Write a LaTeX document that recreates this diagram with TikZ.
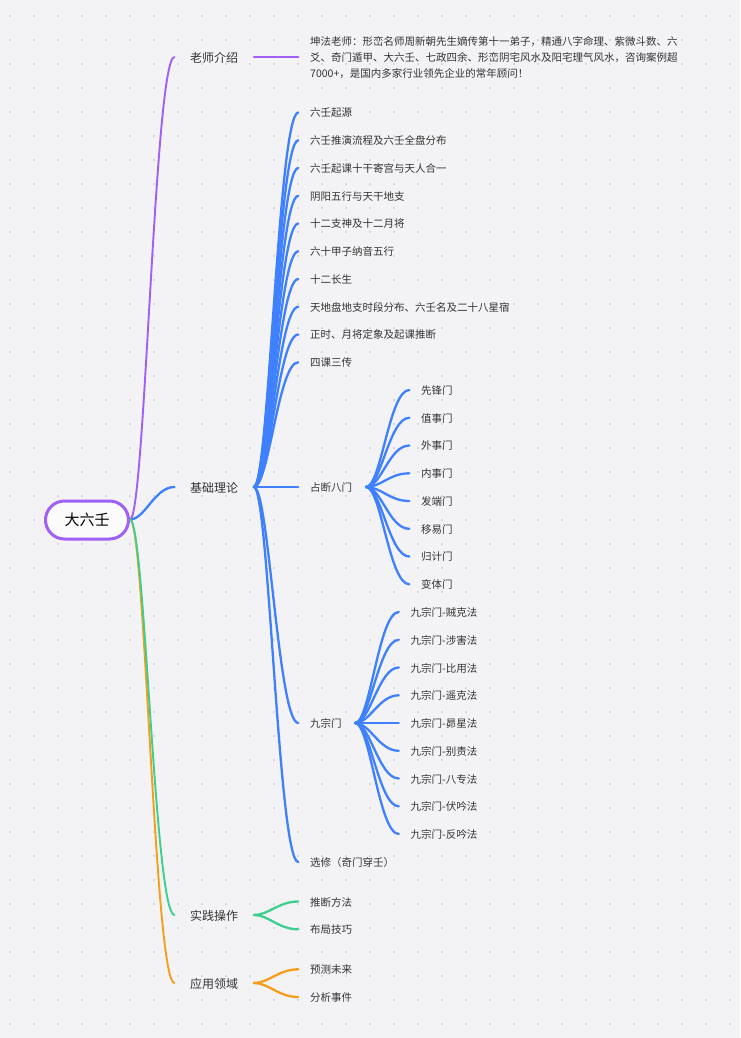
\documentclass[tikz,border=0pt]{standalone}
\usepackage{fontspec}
\setmainfont{Noto Sans CJK SC}
\definecolor{bgc}{HTML}{F3F3F6}
\definecolor{dotc}{HTML}{D6D7DA}
\definecolor{txt}{HTML}{333333}
\definecolor{purp}{HTML}{A05FF5}
\definecolor{blu}{HTML}{3F80FF}
\definecolor{grn}{HTML}{3ECF8E}
\definecolor{org}{HTML}{F59E1B}
\tikzset{
 x=1pt,y=-1pt,
 leaf/.style={anchor=west,yshift=-0.5pt,inner xsep=11.7pt,inner ysep=0pt,text=txt,font=\fontsize{10.5}{16}\selectfont,align=left},
 branch/.style={anchor=west,yshift=-0.5pt,inner xsep=15.5pt,inner ysep=0pt,text=txt,font=\fontsize{12}{16}\selectfont},
 rootbox/.style={draw=purp,line width=3pt,fill=white!70!bgc,rounded corners=19pt,minimum width=83pt,minimum height=38pt,inner sep=0pt,text=black,font=\fontsize{15}{18}\selectfont},
 link/.style={line width=2.3pt,line cap=round},
 rootlink/.style={line width=1.9pt,line cap=round},
}
\newcommand{\cv}[3]{\draw[#1] ([yshift=0.5pt]#2.east) .. controls +(15,0) and +(-20,0) .. ([yshift=0.5pt]#3.west);}
\begin{document}
\begin{tikzpicture}
\useasboundingbox (0,0) rectangle (740,1038);
\fill[bgc] (0,0) rectangle (740,1038);
\foreach \i in {0,...,30}{\foreach \j in {0,...,42}{\fill[dotc] ({10+24*\i-0.8},{16+24*\j-0.8}) rectangle +(1.6,1.6);}}
\node[rootbox] (root) at (87,520) {大六壬};
\node[branch] (teacher) at (174.5,57) {老师介绍};
\node[branch] (basic) at (174.5,487) {基础理论};
\node[branch] (practice) at (174.5,915) {实践操作};
\node[branch] (apply) at (174.5,983) {应用领域};
\node[leaf] (bio) at (298.3,57) {坤法老师：形峦名师周新朝先生嫡传第十一弟子，精通八字命理、紫微斗数、六\\爻、奇门遁甲、大六壬、七政四余、形峦阴宅风水及阳宅理气风水，咨询案例超\\7000+，是国内多家行业领先企业的常年顾问！};
\node[leaf] (a1) at (298.3,112.5) {六壬起源};
\node[leaf] (a2) at (298.3,140.3) {六壬推演流程及六壬全盘分布};
\node[leaf] (a3) at (298.3,168) {六壬起课十干寄宫与天人合一};
\node[leaf] (a4) at (298.3,195.8) {阴阳五行与天干地支};
\node[leaf] (a5) at (298.3,223.5) {十二支神及十二月将};
\node[leaf] (a6) at (298.3,251.3) {六十甲子纳音五行};
\node[leaf] (a7) at (298.3,279) {十二长生};
\node[leaf] (a8) at (298.3,306.8) {天地盘地支时段分布、六壬名及二十八星宿};
\node[leaf] (a9) at (298.3,334.5) {正时、月将定象及起课推断};
\node[leaf] (a10) at (298.3,362.3) {四课三传};
\node[leaf,text width=44pt] (zd) at (298.3,487) {占断八门};
\node[leaf,text width=33pt] (jz) at (298.3,723) {九宗门};
\node[leaf] (xx) at (298.3,862) {选修（奇门穿壬）};
\node[leaf] (z1) at (409.3,390) {先锋门};
\node[leaf] (z2) at (409.3,417.8) {值事门};
\node[leaf] (z3) at (409.3,445.5) {外事门};
\node[leaf] (z4) at (409.3,473.3) {内事门};
\node[leaf] (z5) at (409.3,501) {发端门};
\node[leaf] (z6) at (409.3,528.8) {移易门};
\node[leaf] (z7) at (409.3,556.5) {归计门};
\node[leaf] (z8) at (409.3,584.3) {变体门};
\node[leaf] (j1) at (398.8,612) {九宗门-贼克法};
\node[leaf] (j2) at (398.8,639.8) {九宗门-涉害法};
\node[leaf] (j3) at (398.8,667.5) {九宗门-比用法};
\node[leaf] (j4) at (398.8,695.3) {九宗门-遥克法};
\node[leaf] (j5) at (398.8,723) {九宗门-昴星法};
\node[leaf] (j6) at (398.8,750.8) {九宗门-别责法};
\node[leaf] (j7) at (398.8,778.5) {九宗门-八专法};
\node[leaf] (j8) at (398.8,806.3) {九宗门-伏吟法};
\node[leaf] (j9) at (398.8,834) {九宗门-反吟法};
\node[leaf] (p1) at (298.3,901.5) {推断方法};
\node[leaf] (p2) at (298.3,929.3) {布局技巧};
\node[leaf] (q1) at (298.3,969.3) {预测未来};
\node[leaf] (q2) at (298.3,997) {分析事件};
\cv{rootlink,purp}{root}{teacher}
\cv{link,blu}{root}{basic}
\cv{rootlink,org}{root}{apply}
\cv{rootlink,grn}{root}{practice}
\cv{link,purp}{teacher}{bio}
\foreach \n in {a1,a2,a3,a4,a5,a6,a7,a8,a9,a10,zd,jz,xx}{\cv{link,blu}{basic}{\n}}
\foreach \n in {z1,z2,z3,z4,z5,z6,z7,z8}{\cv{link,blu}{zd}{\n}}
\foreach \n in {j1,j2,j3,j4,j5,j6,j7,j8,j9}{\cv{link,blu}{jz}{\n}}
\foreach \n in {p1,p2}{\cv{link,grn}{practice}{\n}}
\foreach \n in {q1,q2}{\cv{link,org}{apply}{\n}}
\end{tikzpicture}
\end{document}
